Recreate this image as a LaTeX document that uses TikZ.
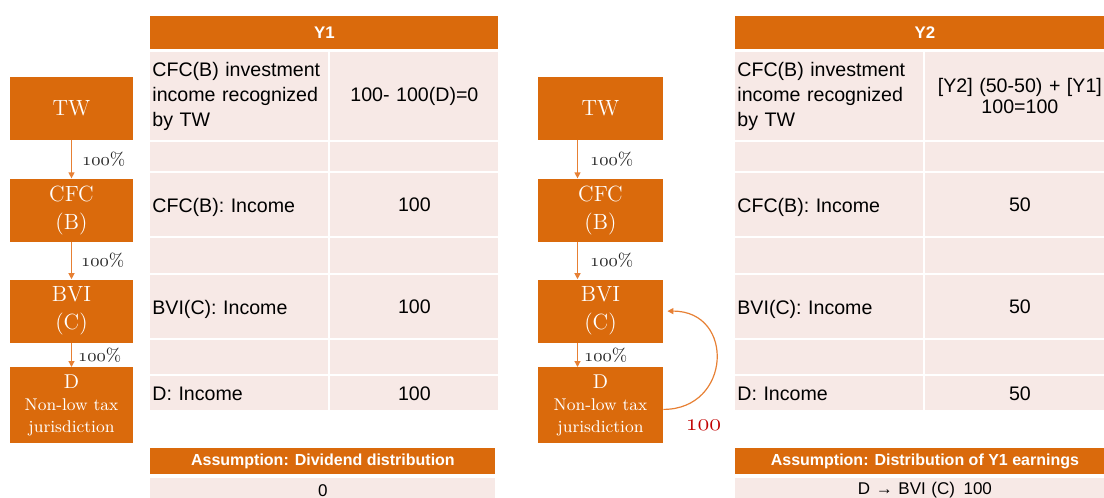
\documentclass[tikz,border=0pt]{standalone}
\usepackage{fontspec}
\newfontfamily\tabfont{Liberation Sans}
\usetikzlibrary{positioning,arrows.meta}

\definecolor{boxorange}{RGB}{218,106,12}
\definecolor{cellpink}{RGB}{247,233,230}
\definecolor{linkorange}{RGB}{231,128,52}
\definecolor{amtred}{RGB}{192,0,0}

\tikzset{
  entity/.style={fill=boxorange, text=white, inner sep=0pt, align=center, text width=61.5pt,
    minimum height=31.5pt, font=\fontsize{11}{14}\selectfont},
  link/.style={draw=linkorange, line width=0.6pt, -{Triangle[length=3pt,width=3pt]}},
  pct/.style={inner sep=0pt, text=black!85, font=\fontsize{9}{10}\selectfont},
  hdr/.style={fill=boxorange, text=white, inner sep=0pt, anchor=north west,
    font=\tabfont\bfseries\fontsize{8.4}{10}\selectfont},
  cell/.style={fill=cellpink, inner xsep=1pt, inner ysep=0pt, anchor=north west, align=left,
    font=\tabfont\fontsize{9.8}{12.5}\selectfont},
  rowname/.style={cell, text depth=0pt},
}

\newcommand{\osn}[1]{$\mathnormal{#1}$}

\begin{document}
\begin{tikzpicture}[x=0.5pt,y=-0.5pt]
\useasboundingbox (0,0) rectangle (1104,498);
\clip (0,0) rectangle (1104,498);

% Y1 chart
\node[entity] (tw1) at (71.5,108.5) {TW};
\node[entity, below=19pt of tw1] (cfc1) {CFC\\(B)};
\node[entity, below=18.5pt of cfc1] (bvi1) {BVI\\(C)};
\node[entity, minimum height=38pt, below=12pt of bvi1, font=\fontsize{8.5}{11}\selectfont] (d1)
  {{\fontsize{10}{11}\selectfont D}\\Non-low tax\\jurisdiction};
\draw[link] (tw1) -- node[pct, right=5pt] {\osn{100}\%} (cfc1);
\draw[link] (cfc1) -- node[pct, right=4.5pt] {\osn{100}\%} (bvi1);
\draw[link] (bvi1) -- node[pct, right=3pt] {\osn{100}\%} (d1);

% Y1 table
\node[hdr, minimum width=174pt, minimum height=16.5pt] (hdr1) at (150,16) {Y1};
\node[cell, text width=87pt, minimum height=44pt] (inv1) at (150,52) {CFC(B) investment\\income recognized\\by TW};
\node[cell, text width=82pt, minimum height=44pt, align=center] (invv1) at (330,52) {100- 100(D)=0};
\node[cell, text width=87pt, minimum height=14.5pt] (gapa1) at (150,142) {};
\node[cell, text width=82pt, minimum height=14.5pt] (gapb1) at (330,142) {};
\node[rowname, text width=87pt, minimum height=31.5pt] (cfcr1) at (150,173) {CFC(B): Income};
\node[cell, text width=82pt, minimum height=31.5pt, align=center] (cfcv1) at (330,173) {100};
\node[cell, text width=87pt, minimum height=17.5pt] (gapc1) at (150,238) {};
\node[cell, text width=82pt, minimum height=17.5pt] (gapd1) at (330,238) {};
\node[rowname, text width=87pt, minimum height=31.5pt] (bvir1) at (150,275) {BVI(C): Income};
\node[cell, text width=82pt, minimum height=31.5pt, align=center] (bviv1) at (330,275) {100};
\node[cell, text width=87pt, minimum height=17pt] (gape1) at (150,340) {};
\node[cell, text width=82pt, minimum height=17pt] (gapf1) at (330,340) {};
\node[rowname, text width=87pt, minimum height=17pt] (dr1) at (150,376) {D: Income};
\node[cell, text width=82pt, minimum height=17pt, align=center] (dv1) at (330,376) {100};
\node[hdr, minimum width=172.5pt, minimum height=13pt, font=\tabfont\bfseries\fontsize{8}{10}\selectfont] (asm1) at (150,448) {Assumption: Dividend distribution};
\node[cell, text width=170.5pt, minimum height=12pt, align=center, font=\tabfont\fontsize{8.5}{10}\selectfont] (dist1) at (150,478) {0};

% Y2 chart
\node[entity, text width=62.5pt] (tw2) at (600.5,108.5) {TW};
\node[entity, text width=62.5pt, below=19pt of tw2] (cfc2) {CFC\\(B)};
\node[entity, text width=62.5pt, below=18.5pt of cfc2] (bvi2) {BVI\\(C)};
\node[entity, text width=62.5pt, minimum height=38pt, below=12pt of bvi2, font=\fontsize{8.5}{11}\selectfont] (d2)
  {{\fontsize{10}{11}\selectfont D}\\Non-low tax\\jurisdiction};
\draw[link] ([xshift=-11.5pt]tw2.south) -- node[pct, right=6pt] {\osn{100}\%} ([xshift=-11.5pt]cfc2.north);
\draw[link] ([xshift=-11.5pt]cfc2.south) -- node[pct, right=6pt] {\osn{100}\%} ([xshift=-11.5pt]bvi2.north);
\draw[link] ([xshift=-11.5pt]bvi2.south) -- node[pct, right=3pt] {\osn{100}\%} ([xshift=-11.5pt]d2.north);
\draw[link] ([yshift=-2pt]d2.east) .. controls +(68,0) and +(68,0) .. ([xshift=2pt]bvi2.east);
\node[text=amtred, inner sep=0pt, font=\fontsize{12}{14}\selectfont] (amt) at (703.5,425) {\osn{100}};

% Y2 table
\node[hdr, minimum width=189.5pt, minimum height=16.5pt] (hdr2) at (735,16) {Y2};
\node[cell, text width=92pt, minimum height=44pt] (inv2) at (735,52) {CFC(B) investment\\income recognized\\by TW};
\node[cell, text width=92.5pt, minimum height=44pt, align=center, font=\tabfont\fontsize{9.8}{10.5}\selectfont] (invv2) at (925,52) {[Y2] (50-50) + [Y1]\\100=100};
\node[cell, text width=92pt, minimum height=14.5pt] (gapa2) at (735,142) {};
\node[cell, text width=92.5pt, minimum height=14.5pt] (gapb2) at (925,142) {};
\node[rowname, text width=92pt, minimum height=31.5pt] (cfcr2) at (735,173) {CFC(B): Income};
\node[cell, text width=92.5pt, minimum height=31.5pt, align=center] (cfcv2) at (925,173) {50};
\node[cell, text width=92pt, minimum height=17.5pt] (gapc2) at (735,238) {};
\node[cell, text width=92.5pt, minimum height=17.5pt] (gapd2) at (925,238) {};
\node[rowname, text width=92pt, minimum height=31.5pt] (bvir2) at (735,275) {BVI(C): Income};
\node[cell, text width=92.5pt, minimum height=31.5pt, align=center] (bviv2) at (925,275) {50};
\node[cell, text width=92pt, minimum height=17pt] (gape2) at (735,340) {};
\node[cell, text width=92.5pt, minimum height=17pt] (gapf2) at (925,340) {};
\node[rowname, text width=92pt, minimum height=17pt] (dr2) at (735,376) {D: Income};
\node[cell, text width=92.5pt, minimum height=17pt, align=center] (dv2) at (925,376) {50};
\node[hdr, minimum width=189.5pt, minimum height=13pt, font=\tabfont\bfseries\fontsize{8}{10}\selectfont] (asm2) at (735,448) {Assumption: Distribution of Y1 earnings};
\node[cell, text width=187.5pt, minimum height=12pt, align=center, font=\tabfont\fontsize{8.5}{10}\selectfont] (dist2) at (735,478) {D → BVI (C)\enspace 100};
\end{tikzpicture}
\end{document}
